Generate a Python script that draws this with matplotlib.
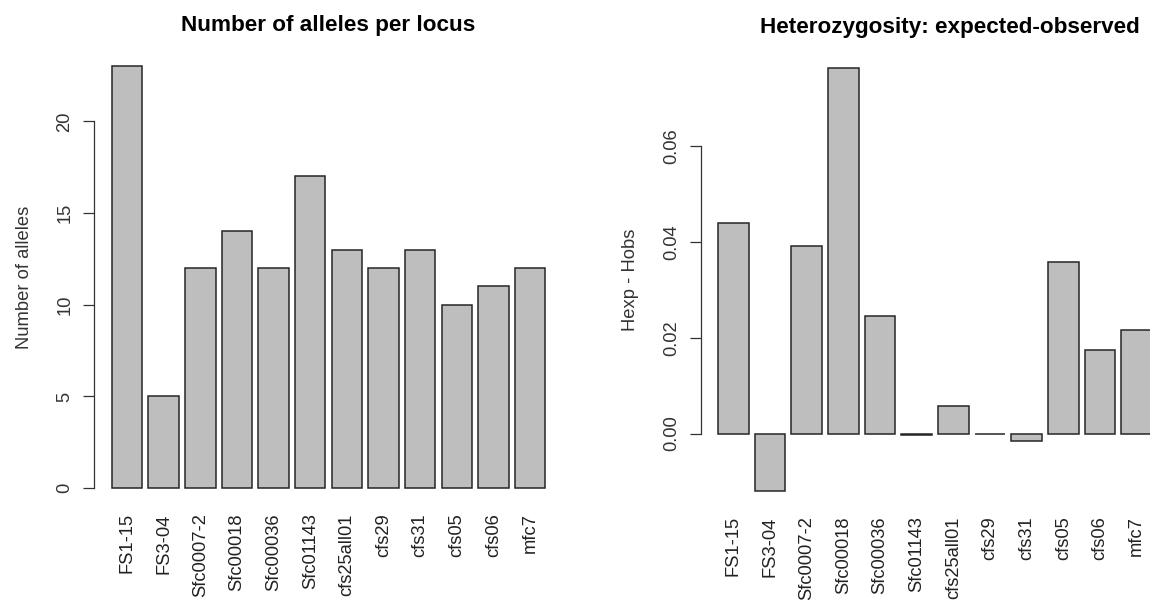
import numpy as np
import matplotlib
matplotlib.use("Agg")
import matplotlib.pyplot as plt

plt.rcParams['font.family'] = ['Liberation Sans', 'DejaVu Sans']

loci = ["FS1-15", "FS3-04", "Sfc0007-2", "Sfc00018", "Sfc00036", "Sfc01143",
        "cfs25all01", "cfs29", "cfs31", "cfs05", "cfs06", "mfc7"]
n_alleles = [23, 5, 12, 14, 12, 17, 13, 12, 13, 10, 11, 12]
h_diff = [0.0439, -0.0120, 0.0391, 0.0763, 0.0245, -0.0002,
          0.0058, 0.0, -0.0015, 0.0359, 0.0175, 0.0217]

W, H = 1150, 603
fig = plt.figure(figsize=(W / 100, H / 100), dpi=100)

# bar layout like R's barplot: width 1, space 0.2
pos = 0.2 + 1.2 * np.arange(len(loci)) + 0.5
x_lo, x_hi = 0.2, 0.2 + 1.2 * len(loci) - 0.2
pad_x = 0.04 * (x_hi - x_lo)
FS = 13.2


def rbar(ax, vals, ticks, ticklabels, ylabel, title, title_x=0.5):
    ax.bar(pos, vals, width=1.0, color="#bebebe", edgecolor="#262626", linewidth=1.1)
    ax.set_xlim(x_lo - pad_x, x_hi + pad_x)
    lo, hi = min(0, min(vals)), max(0, max(vals))
    r = hi - lo
    ax.set_ylim(lo - 0.04 * r, hi + 0.04 * r)
    for s in ["top", "right", "bottom"]:
        ax.spines[s].set_visible(False)
    ax.spines["left"].set_bounds(ticks[0], ticks[-1])
    ax.spines["left"].set_color("#333333")
    ax.spines["left"].set_linewidth(0.9)
    ax.set_yticks(ticks)
    ax.set_yticklabels(ticklabels, rotation=90, va="center", fontsize=FS, color="#333333")
    ax.tick_params(axis="y", length=8, width=0.9, color="#333333", pad=7)
    ax.set_xticks(pos)
    ax.set_xticklabels(loci, rotation=90, fontsize=FS, color="#222222")
    ax.tick_params(axis="x", length=0, pad=6)
    ax.set_ylabel(ylabel, fontsize=FS, color="#333333", labelpad=17)
    ax.set_title(title, fontsize=16.2, fontweight="bold", pad=13, x=title_x)


ax1 = fig.add_axes([94.3 / W, (H - 505) / H, 468.5 / W, 455.5 / H])
rbar(ax1, n_alleles, [0, 5, 10, 15, 20], ["0", "5", "10", "15", "20"],
     "Number of alleles", "Number of alleles per locus")

ax2 = fig.add_axes([700.7 / W, (H - 508) / H, 468.5 / W, 457 / H])
rbar(ax2, h_diff, [0, 0.02, 0.04, 0.06], ["0.00", "0.02", "0.04", "0.06"],
     "Hexp - Hobs", "Heterozygosity: expected-observed", title_x=0.532)

fig.savefig("out.png", dpi=100)
